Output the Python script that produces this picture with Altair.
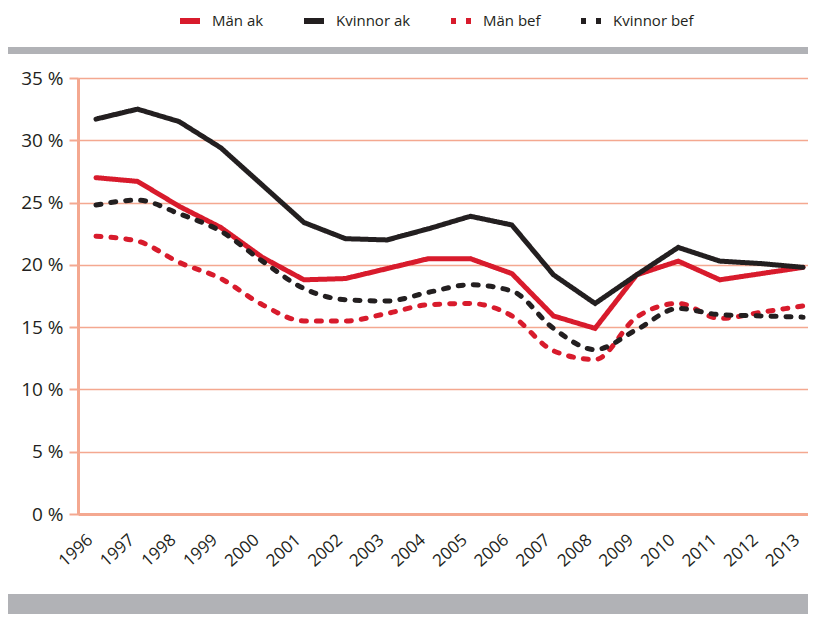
import altair as alt
import pandas as pd

years = list(range(1996, 2014))
kvinnor_ak = [31.7, 32.5, 31.5, 29.4, 26.4, 23.4, 22.1, 22.0, 22.9, 23.9, 23.2, 19.2, 16.9, 19.2, 21.4, 20.3, 20.1, 19.8]
man_ak = [27.0, 26.7, 24.7, 23.0, 20.6, 18.8, 18.9, 19.7, 20.5, 20.5, 19.3, 15.9, 14.9, 19.2, 20.3, 18.8, 19.3, 19.8]
kvinnor_bef = [24.8, 25.2, 24.1, 22.7, 20.3, 18.1, 17.2, 17.1, 17.8, 18.4, 17.9, 14.9, 13.2, 14.8, 16.5, 16.0, 15.9, 15.8]
man_bef = [22.3, 21.9, 20.2, 18.9, 16.8, 15.5, 15.5, 16.1, 16.8, 16.9, 15.9, 13.1, 12.4, 15.8, 16.9, 15.7, 16.2, 16.7]

series_names = ["Män ak", "Kvinnor ak", "Män bef", "Kvinnor bef"]
series_vals = [man_ak, kvinnor_ak, man_bef, kvinnor_bef]
y_ticks = [0, 5, 10, 15, 20, 25, 30, 35]

rows = []
for name, vals in zip(series_names, series_vals):
    for yr, v in zip(years, vals):
        rows.append({"year": yr, "value": v, "series": name})
df = pd.DataFrame(rows)

RED = "#d81b2c"
BLACK = "#231f20"
SALMON = "#f4a890"
GRAY = "#b1b2b6"
FONT = "Open Sans"

W, H = 730, 436

legend = alt.Legend(title=None, orient="none", legendX=99, legendY=-70,
                    direction="horizontal", symbolType="stroke", symbolSize=400,
                    symbolStrokeWidth=6, labelFontSize=15, labelFont=FONT, labelFontWeight=500,
                    labelColor=BLACK, columnPadding=28, labelOffset=9)

color = alt.Color("series:N", scale=alt.Scale(domain=series_names, range=[RED, BLACK, RED, BLACK]),
                  legend=legend)
dash = alt.StrokeDash("series:N", scale=alt.Scale(domain=series_names, range=[[1, 0], [1, 0], [5, 10], [5, 10]]),
                      legend=legend)

x = alt.X("year:Q", scale=alt.Scale(domain=[1995.567, 2013.12], nice=False, zero=False),
          axis=alt.Axis(values=years, format="d", labelAngle=-42, labelAlign="right", labelBaseline="bottom",
                        labelFontSize=17, labelFont=FONT, labelColor=BLACK, ticks=False, grid=False,
                        domainColor=SALMON, domainWidth=3, labelPadding=30, title=None, labelOverlap=False))
y = alt.Y("value:Q", scale=alt.Scale(domain=[0, 35], nice=False),
          axis=alt.Axis(values=y_ticks, labelExpr="datum.value + ' %'", labelFontSize=19, labelFont=FONT,
                        labelColor=BLACK, tickColor=SALMON, tickWidth=2, tickSize=9, gridColor=SALMON,
                        gridWidth=1.5, domainColor=SALMON, domainWidth=3, labelPadding=6, title=None))

solid = alt.Chart(df).transform_filter(
    alt.FieldOneOfPredicate(field="series", oneOf=["Män ak", "Kvinnor ak"])
).mark_line(strokeWidth=5, strokeCap="round", strokeJoin="miter").encode(x=x, y=y, color=color, strokeDash=dash)

dashed = alt.Chart(df).transform_filter(
    alt.FieldOneOfPredicate(field="series", oneOf=["Män bef", "Kvinnor bef"])
).mark_line(strokeWidth=5, strokeCap="round", interpolate="monotone").encode(x=x, y=y, color=color, strokeDash=dash)

band_df = pd.DataFrame({"k": [0]})
top_band = alt.Chart(band_df).mark_rect(color=GRAY).encode(
    x=alt.value(-70), x2=alt.value(W + 10), y=alt.value(-31), y2=alt.value(-24))
bottom_band = alt.Chart(band_df).mark_rect(color=GRAY).encode(
    x=alt.value(-70), x2=alt.value(W + 10), y=alt.value(516), y2=alt.value(560))

chart = alt.layer(top_band, bottom_band, solid, dashed).properties(
    width=W, height=H,
    autosize=alt.AutoSizeParams(type="none"),
    padding={"left": 70, "top": 70, "right": 0, "bottom": 100},
).configure_view(stroke=None).configure(background="white")

chart.save("out.html", embed_options={"renderer": "svg", "actions": False})
